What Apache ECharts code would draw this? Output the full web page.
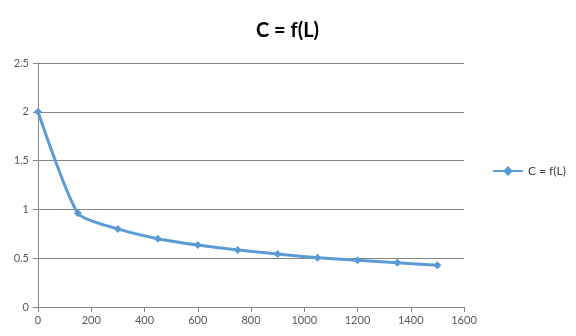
<!DOCTYPE html>
<html>
<head>
<meta charset="utf-8">
<script src="https://cdn.jsdelivr.net/npm/echarts@6/dist/echarts.min.js"></script>
<style>
  html, body { margin: 0; padding: 0; background: #fff; }
  #chart { width: 576px; height: 336px; }
</style>
</head>
<body>
<div id="chart"></div>
<script>
// Length values (x) and measured C values (y)
const lengths = [0, 150, 300, 450, 600, 750, 900, 1050, 1200, 1350, 1500];
const cValues = [2.0, 0.96, 0.80, 0.70, 0.635, 0.585, 0.543, 0.505, 0.478, 0.454, 0.428];
const seriesName = 'C = f(L)';
const chartTitle = 'C = f(L)';

const points = lengths.map((x, i) => [x, cValues[i]]);

const font = 'Lato, "Open Sans", "Liberation Sans", sans-serif';
const chart = echarts.init(document.getElementById('chart'));
chart.setOption({
  animation: false,
  title: {
    text: chartTitle,
    left: 251,
    top: 16,
    textStyle: { fontFamily: font, fontSize: 20, fontWeight: 'bold', color: '#000' }
  },
  legend: {
    left: 488,
    top: 160,
    orient: 'vertical',
    itemWidth: 30,
    itemHeight: 10,
    itemGap: 5,
    icon: 'path://M0,4 L11,4 L15,0 L19,4 L30,4 L30,6 L19,6 L15,10 L11,6 L0,6 Z',
    textStyle: { fontFamily: font, fontSize: 12, color: '#404040' },
    data: [seriesName]
  },
  grid: { left: 38, right: 112, top: 63, bottom: 29 },
  xAxis: {
    type: 'value',
    min: 0, max: 1600, interval: 200,
    axisLine: { lineStyle: { color: '#868686', width: 1 } },
    axisTick: { show: true, length: 5, lineStyle: { color: '#868686' } },
    axisLabel: { fontFamily: font, fontSize: 11, color: '#595959', margin: 8,
                 formatter: v => String(v) },
    splitLine: { show: false }
  },
  yAxis: {
    type: 'value',
    min: 0, max: 2.5, interval: 0.5,
    axisLine: { show: true, lineStyle: { color: '#868686', width: 1 } },
    axisTick: { show: true, length: 5, lineStyle: { color: '#868686' } },
    axisLabel: { fontFamily: font, fontSize: 11, color: '#595959', margin: 9 },
    splitLine: { lineStyle: { color: '#868686', width: 1 } }
  },
  series: [{
    name: seriesName,
    type: 'line',
    data: points,
    smooth: 0.2,
    symbol: 'diamond',
    symbolSize: 8,
    lineStyle: { color: '#5B9BD5', width: 3 },
    itemStyle: { color: '#5B9BD5' }
  }]
});
</script>
</body>
</html>
